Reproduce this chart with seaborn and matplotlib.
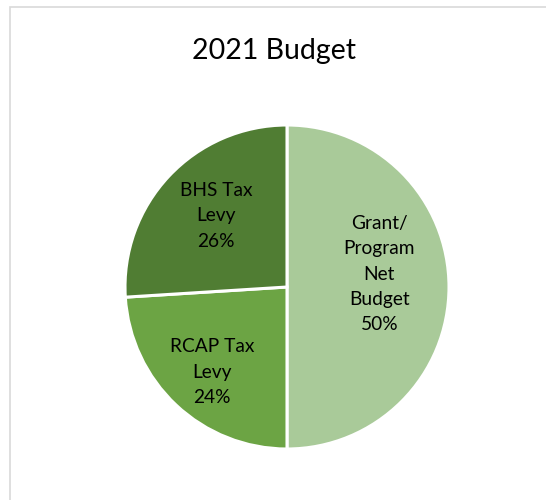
import matplotlib
matplotlib.use("Agg")
import matplotlib.pyplot as plt
from matplotlib.patches import Rectangle
import numpy as np
import seaborn as sns

# Budget shares (percent)
categories = ["Grant/\nProgram\nNet\nBudget", "RCAP Tax\nLevy", "BHS Tax\nLevy"]
shares = [50, 24, 26]
colors = ["#A9CA99", "#6CA444", "#507D33"]

sns.set_theme(style="white")
plt.rcParams["font.family"] = ["Lato", "DejaVu Sans"]

fig = plt.figure(figsize=(5.46, 5.0), dpi=100)
fig.patch.set_facecolor("white")

# chart-area frame
fig.patches.append(Rectangle((10 / 546, -0.05), 1.2, 1 - 7 / 500 + 0.05,
                             transform=fig.transFigure, fill=False,
                             edgecolor="#D9D9D9", linewidth=1.2))

ax = fig.add_axes([125 / 546, 51 / 500, 324 / 546, 324 / 500])
wedges, _ = ax.pie(shares, colors=colors, startangle=90, counterclock=False,
                   wedgeprops=dict(edgecolor="white", linewidth=2.2))
ax.set_xlim(-1, 1)
ax.set_ylim(-1, 1)
ax.set_aspect("equal")
ax.axis("off")

# label placement: (radius fraction, angle shift in degrees)
placement = [(0.575, 8.0), (0.70, 2.0), (0.62, -2.0)]
for w, cat, val, (rad, shift) in zip(wedges, categories, shares, placement):
    mid = np.deg2rad((w.theta1 + w.theta2) / 2 + shift)
    ax.text(rad * np.cos(mid), rad * np.sin(mid), f"{cat}\n{val}%",
            ha="center", va="center", fontsize=13.8, color="black",
            linespacing=1.6)

fig.text(274.5 / 546, 1 - 51 / 500, "2021 Budget", ha="center", va="center",
         fontsize=20.5, color="black")

fig.savefig("out.png", dpi=100)
